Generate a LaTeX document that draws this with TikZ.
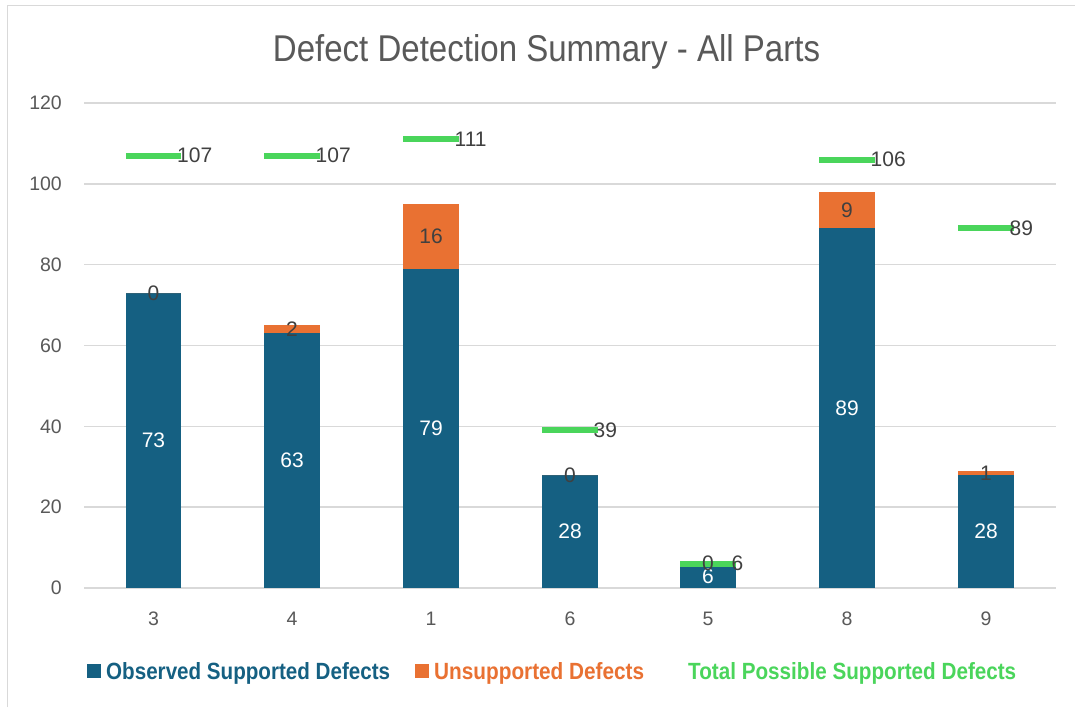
\documentclass[tikz,border=0pt]{standalone}
\usepackage{fontspec}
\setmainfont{Liberation Sans}
\definecolor{obsblue}{HTML}{156082}
\definecolor{unsorange}{HTML}{E97132}
\definecolor{totgreen}{HTML}{4AD55B}
\definecolor{gridgray}{HTML}{D9D9D9}
\definecolor{axisgray}{HTML}{595959}
\definecolor{labelgray}{HTML}{404040}
\tikzset{
  axislbl/.style={inner sep=0pt, text=axisgray, font=\fontsize{19.5}{19.5}\selectfont},
  datalbl/.style={inner sep=0pt, text=labelgray, font=\fontsize{21}{21}\selectfont},
  inlbl/.style={inner sep=0pt, text=white, font=\fontsize{21}{21}\selectfont},
  gridline/.style={draw=gridgray, line width=1.5pt},
  marker/.style={draw=totgreen, line width=6pt},
  legendtxt/.style={inner sep=0pt, anchor=base west, font=\bfseries},
}
\begin{document}
\begin{tikzpicture}[x=1pt, y=-1pt]
  \useasboundingbox (0,0) rectangle (1075,707);
  \fill[white] (0,0) rectangle (1075,707);
  % chart frame (top and left edges)
  \draw[gridgray, line width=1.6pt] (7.5,707) -- (7.5,5.5) -- (1075,5.5);

  % title
  \node[inner sep=0pt, anchor=base, text=axisgray] (title) at (546.5,61)
    {\resizebox{547pt}{27pt}{Defect Detection Summary - All Parts}};

  % value axis: 0 at y=588, 120 at y=103
  \def\ys{4.041667}
  \foreach \v in {0,20,...,120} {
    \pgfmathsetmacro\yy{588-\v*\ys}
    \draw[gridline] (84,\yy) -- (1056,\yy);
    \node[axislbl, anchor=east] at (62,\yy) {\v};
  }

  % stacked bars, markers and labels: x / category / observed / unsupported / total
  \foreach \x/\c/\b/\o/\g in {153.5/3/73/0/107, 292/4/63/2/107, 431/1/79/16/111,
      570/6/28/0/39, 708/5/6/0/6, 847/8/89/9/106, 986/9/28/1/89} {
    \pgfmathsetmacro\yb{588-\b*\ys}
    \pgfmathsetmacro\yo{588-(\b+\o)*\ys}
    \pgfmathsetmacro\yg{588-\g*\ys}
    \pgfmathsetmacro\xl{\x-27.75}
    \pgfmathsetmacro\xr{\x+27.75}
    \fill[obsblue] (\xl,588) rectangle (\xr,\yb);
    \fill[unsorange] (\xl,\yb) rectangle (\xr,\yo);
    \draw[marker] (\xl,\yg) -- (\xr,\yg);
    \node[inlbl] at (\x,{(588+\yb)/2}) {\b};
    \node[datalbl] at (\x,{(\yb+\yo)/2}) {\o};
    \node[datalbl, anchor=west] at (\x+23.5,\yg) {\g};
    \node[axislbl] at (\x,619) {\c};
  }

  % legend
  \fill[obsblue] (87,664) rectangle (100.5,678);
  \node[legendtxt, text=obsblue] (lg1) at (106,679)
    {\resizebox{284pt}{17pt}{Observed Supported Defects}};
  \fill[unsorange] (415,664) rectangle (428.5,678);
  \node[legendtxt, text=unsorange] (lg2) at (434,679)
    {\resizebox{210pt}{17pt}{Unsupported Defects}};
  \node[legendtxt, text=totgreen] (lg3) at (688,679)
    {\resizebox{328pt}{17pt}{Total Possible Supported Defects}};
\end{tikzpicture}
\end{document}
